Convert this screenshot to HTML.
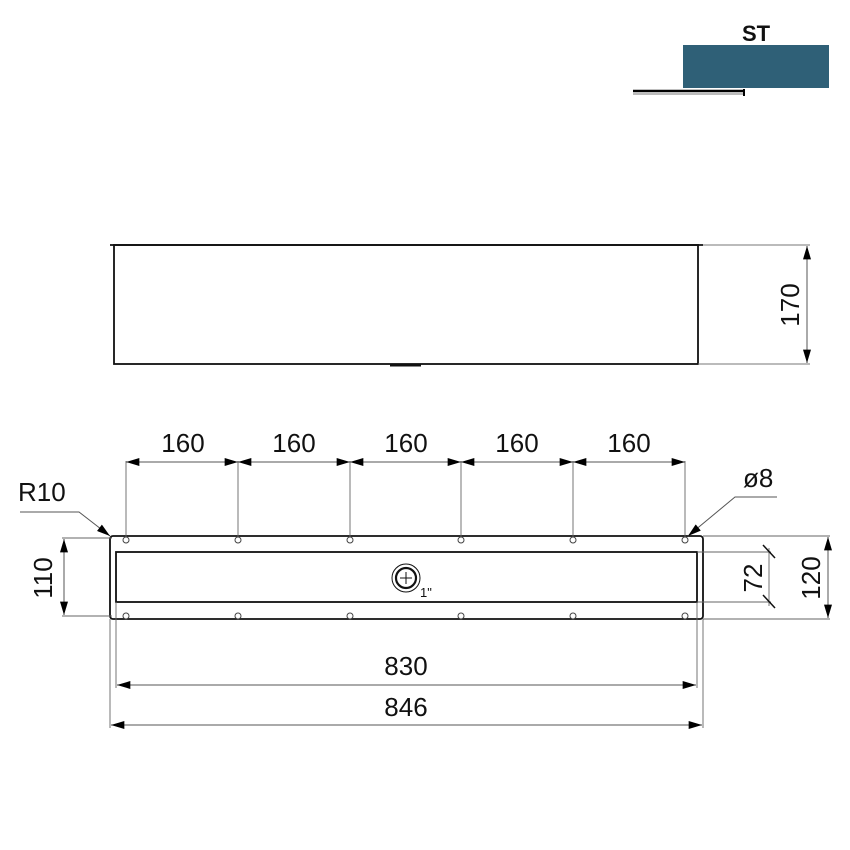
<!DOCTYPE html>
<html><head><meta charset="utf-8"><style>
html,body{margin:0;padding:0;background:#fff;}
svg{display:block;}
text{font-family:"Liberation Sans","DejaVu Sans",sans-serif;fill:#111;}
</style></head><body>
<svg width="850" height="850" viewBox="0 0 850 850" xmlns="http://www.w3.org/2000/svg">
<defs>
<marker id="a" viewBox="0 0 10 6" refX="10" refY="3" markerWidth="16" markerHeight="8" markerUnits="userSpaceOnUse" orient="auto-start-reverse"><path d="M0,0L10,3L0,6Z" fill="#000"/></marker>
</defs>
<!-- ST logo -->
<text x="756" y="41" font-size="22" font-weight="bold" text-anchor="middle">ST</text>
<rect x="683" y="45" width="146" height="43" fill="#2f6077"/>
<line x1="633" y1="94" x2="745" y2="94" stroke="#bbb" stroke-width="2"/>
<line x1="633" y1="91" x2="745" y2="91" stroke="#000" stroke-width="2.5"/>
<line x1="744" y1="89" x2="744" y2="96" stroke="#000" stroke-width="2"/>

<!-- top view -->
<g stroke="#111" fill="none" stroke-width="1.8">
<line x1="110" y1="245" x2="703" y2="245"/>
<rect x="114" y="245" width="584" height="119"/>
</g>
<line x1="390" y1="365.5" x2="421" y2="365.5" stroke="#111" stroke-width="2"/>
<g stroke="#777" stroke-width="0.9">
<line x1="703" y1="245" x2="810" y2="245"/>
<line x1="698" y1="364" x2="810" y2="364"/>
</g>
<line x1="807" y1="246" x2="807" y2="363" stroke="#555" stroke-width="1" marker-start="url(#a)" marker-end="url(#a)"/>
<text transform="translate(799,305) rotate(-90)" font-size="26" text-anchor="middle">170</text>

<!-- plan view -->
<g stroke="#111" fill="none" stroke-width="1.8">
<rect x="110" y="536" width="593" height="83" rx="3"/>
<rect x="116" y="552" width="581" height="50"/>
</g>
<g stroke="#444" fill="#fff" stroke-width="1">
<circle cx="126" cy="540" r="3"/><circle cx="238" cy="540" r="3"/><circle cx="350" cy="540" r="3"/><circle cx="461" cy="540" r="3"/><circle cx="573" cy="540" r="3"/><circle cx="685" cy="540" r="3"/>
<circle cx="126" cy="616" r="3"/><circle cx="238" cy="616" r="3"/><circle cx="350" cy="616" r="3"/><circle cx="461" cy="616" r="3"/><circle cx="573" cy="616" r="3"/><circle cx="685" cy="616" r="3"/>
</g>
<!-- drain -->
<circle cx="406" cy="578" r="14" fill="none" stroke="#111" stroke-width="1"/>
<circle cx="406" cy="578" r="10" fill="none" stroke="#111" stroke-width="2.2"/>
<line x1="400" y1="578" x2="412" y2="578" stroke="#111" stroke-width="1"/>
<line x1="406" y1="572" x2="406" y2="584" stroke="#111" stroke-width="1"/>
<text x="420" y="597" font-size="13">1"</text>

<!-- 160 dims -->
<g stroke="#666" stroke-width="0.9">
<line x1="126" y1="461" x2="126" y2="537"/><line x1="238" y1="461" x2="238" y2="537"/><line x1="350" y1="461" x2="350" y2="537"/><line x1="461" y1="461" x2="461" y2="537"/><line x1="573" y1="461" x2="573" y2="537"/><line x1="685" y1="461" x2="685" y2="537"/>
</g>
<g stroke="#555" stroke-width="1">
<line x1="126" y1="462" x2="238" y2="462" marker-start="url(#a)" marker-end="url(#a)"/>
<line x1="238" y1="462" x2="350" y2="462" marker-start="url(#a)" marker-end="url(#a)"/>
<line x1="350" y1="462" x2="461" y2="462" marker-start="url(#a)" marker-end="url(#a)"/>
<line x1="461" y1="462" x2="573" y2="462" marker-start="url(#a)" marker-end="url(#a)"/>
<line x1="573" y1="462" x2="685" y2="462" marker-start="url(#a)" marker-end="url(#a)"/>
</g>
<g font-size="26" text-anchor="middle">
<text x="183" y="452">160</text><text x="294" y="452">160</text><text x="406" y="452">160</text><text x="517" y="452">160</text><text x="629" y="452">160</text>
</g>

<!-- R10 -->
<text x="18" y="501" font-size="26">R10</text>
<polyline points="20,512 79,512 110,536" fill="none" stroke="#555" stroke-width="1" marker-end="url(#a)"/>
<!-- Ø8 -->
<text x="743" y="487" font-size="26">ø8</text>
<polyline points="777,497 735,497 688,536" fill="none" stroke="#555" stroke-width="1" marker-end="url(#a)"/>

<!-- 110 -->
<g stroke="#666" stroke-width="0.9">
<line x1="62" y1="538" x2="112" y2="538"/><line x1="62" y1="616" x2="112" y2="616"/>
</g>
<line x1="64" y1="539" x2="64" y2="615" stroke="#555" stroke-width="1" marker-start="url(#a)" marker-end="url(#a)"/>
<text transform="translate(52,578) rotate(-90)" font-size="26" text-anchor="middle">110</text>

<!-- 120 -->
<g stroke="#666" stroke-width="0.9">
<line x1="703" y1="536" x2="830" y2="536"/><line x1="703" y1="619" x2="830" y2="619"/>
</g>
<line x1="828" y1="537" x2="828" y2="618" stroke="#555" stroke-width="1" marker-start="url(#a)" marker-end="url(#a)"/>
<text transform="translate(820,578) rotate(-90)" font-size="26" text-anchor="middle">120</text>

<!-- 72 -->
<g stroke="#666" stroke-width="0.9">
<line x1="697" y1="552" x2="771" y2="552"/><line x1="697" y1="602" x2="771" y2="602"/>
<line x1="769" y1="548" x2="769" y2="606"/>
</g>
<g stroke="#111" stroke-width="1.5">
<line x1="763" y1="545" x2="775" y2="558"/><line x1="763" y1="595" x2="775" y2="608"/>
</g>
<text transform="translate(762,578) rotate(-90)" font-size="26" text-anchor="middle">72</text>

<!-- 830 / 846 -->
<g stroke="#666" stroke-width="0.9">
<line x1="116" y1="602" x2="116" y2="688"/><line x1="697" y1="602" x2="697" y2="688"/>
<line x1="110" y1="619" x2="110" y2="728"/><line x1="703" y1="619" x2="703" y2="728"/>
</g>
<line x1="117" y1="685" x2="696" y2="685" stroke="#555" stroke-width="1" marker-start="url(#a)" marker-end="url(#a)"/>
<line x1="111" y1="725" x2="702" y2="725" stroke="#555" stroke-width="1" marker-start="url(#a)" marker-end="url(#a)"/>
<text x="406" y="675" font-size="26" text-anchor="middle">830</text>
<text x="406" y="716" font-size="26" text-anchor="middle">846</text>
</svg>
</body></html>
